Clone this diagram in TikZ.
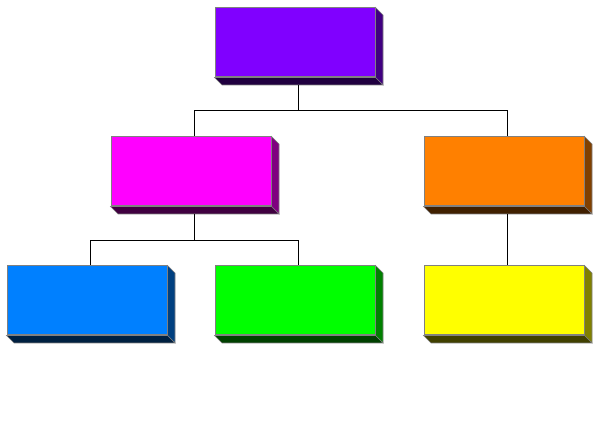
\documentclass[tikz,border=0pt]{standalone}
\usepackage{tikz}
\usetikzlibrary{positioning,calc}

\definecolor{toppurple}{HTML}{8000FF}
\definecolor{midmagenta}{HTML}{FF00FF}
\definecolor{midorange}{HTML}{FF8000}
\definecolor{lowblue}{HTML}{0080FF}
\definecolor{lowgreen}{HTML}{00FF00}
\definecolor{lowyellow}{HTML}{FFFF00}

\begin{document}
\begin{tikzpicture}[x=1pt, y=-1pt,
  unit/.style={draw=gray, line width=1pt, fill=#1, minimum width=160pt, minimum height=69pt, inner sep=0pt},
  link/.style={draw=black, line width=1pt}]
  \useasboundingbox (0,0) rectangle (600,427);

  % Top level
  \node[unit=toppurple] (top) at (295,42.5) {};

  % Middle level
  \node[unit=midmagenta] (mag) at (191,171.5) {};
  \node[unit=midorange] (org) at (504,171.5) {};

  % Bottom level
  \node[unit=lowblue] (blu) at (87,300.5) {};
  \node[unit=lowgreen] (grn) at (295,300.5) {};
  \node[unit=lowyellow] (yel) at (504,300.5) {};

  % Depth faces (right and bottom)
  \foreach \n/\c in {top/toppurple, mag/midmagenta, org/midorange, blu/lowblue, grn/lowgreen, yel/lowyellow} {
    \filldraw[fill=\c!50!black, draw=gray, line width=0.6pt]
      (\n.north east) -- ++(7.5,7.5) -- ($(\n.south east)+(7.5,7.5)$) -- (\n.south east) -- cycle;
    \filldraw[fill=\c!25!black, draw=gray, line width=0.6pt]
      (\n.south west) -- ++(7.5,7.5) -- ($(\n.south east)+(7.5,7.5)$) -- (\n.south east) -- cycle;
  }

  % Connectors
  \draw[link] ([shift={(3.75,7.5)}]top.south) -- ++(0,26) -| ([xshift=3.75]mag.north);
  \draw[link] ([shift={(3.75,7.5)}]top.south) -- ++(0,26) -| ([xshift=3.75]org.north);
  \draw[link] ([shift={(3.75,7.5)}]mag.south) -- ++(0,26.5) -| ([xshift=3.75]blu.north);
  \draw[link] ([shift={(3.75,7.5)}]mag.south) -- ++(0,26.5) -| ([xshift=3.75]grn.north);
  \draw[link] ([shift={(3.75,7.5)}]org.south) -- ([xshift=3.75]yel.north);

\end{tikzpicture}
\end{document}
